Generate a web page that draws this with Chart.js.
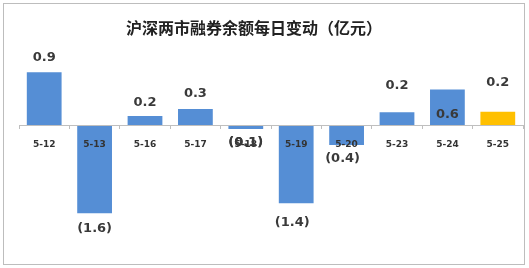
<!DOCTYPE html>
<html>
<head>
<meta charset="utf-8">
<script src="https://cdn.jsdelivr.net/npm/chart.js@4/dist/chart.umd.min.js"></script>
<style>
  html, body { margin: 0; padding: 0; background: #fff; }
  #wrap { position: relative; width: 529px; height: 268px; }
  #frame { position: absolute; left: 3px; top: 3px; width: 520px; height: 260px;
           border: 1.5px solid #bdbdbd; pointer-events: none; }
  canvas { position: absolute; left: 0; top: 0; }
</style>
</head>
<body>
<div id="wrap">
  <canvas id="c" width="529" height="268"></canvas>
  <div id="frame"></div>
</div>
<script>
const titleText = '沪深两市融券余额每日变动（亿元）';
const categories = ['5-12', '5-13', '5-16', '5-17', '5-18', '5-19', '5-20', '5-23', '5-24', '5-25'];
const values = [0.95, -1.59, 0.16, 0.29, -0.07, -1.41, -0.36, 0.23, 0.64, 0.24];
const highlightIndex = 9;

const blue = '#558ed5';
const orange = '#ffc000';
const barColors = categories.map((c, i) => i === highlightIndex ? orange : blue);

function fmt(v) {
  const s = Math.abs(v).toFixed(1);
  return v < 0 ? '(' + s + ')' : s;
}

const valueLabelPlugin = {
  id: 'valueLabels',
  afterDatasetsDraw(chart, args, opts) {
    const ctx = chart.ctx;
    const meta = chart.getDatasetMeta(0);
    ctx.save();
    ctx.font = opts.font;
    ctx.fillStyle = opts.color;
    ctx.textAlign = 'center';
    ctx.textBaseline = 'middle';
    meta.data.forEach((bar, i) => {
      const v = chart.data.datasets[0].data[i];
      const off = opts.offsets[i];
      let y;
      if (off === 'inside') {
        y = bar.base - 10;
      } else {
        y = v >= 0 ? bar.y - off : bar.y + off;
      }
      ctx.fillText(fmt(v), bar.x + (opts.dx[i] || 0), y);
    });
    ctx.restore();
  },
  afterDraw(chart, args, opts) {
    // value label for 5-18 overlaps the tick label in the reference; redraw it on top
    const ctx = chart.ctx;
    const meta = chart.getDatasetMeta(0);
    ctx.save();
    ctx.font = opts.font;
    ctx.fillStyle = opts.color;
    ctx.textAlign = 'center';
    ctx.textBaseline = 'middle';
    meta.data.forEach((bar, i) => {
      const v = chart.data.datasets[0].data[i];
      const off = opts.offsets[i];
      if (off !== 'inside' && v < 0 && Math.abs(v) < 0.2) {
        ctx.fillText(fmt(v), bar.x + (opts.dx[i] || 0), bar.y + off);
      }
    });
    ctx.restore();
  }
};

const titlePlugin = {
  id: 'customTitle',
  afterDraw(chart, args, opts) {
    const ctx = chart.ctx;
    ctx.save();
    ctx.font = opts.font;
    ctx.fillStyle = opts.color;
    ctx.textAlign = 'center';
    ctx.textBaseline = 'middle';
    ctx.fillText(opts.text, opts.x, opts.y);
    ctx.restore();
  }
};

new Chart(document.getElementById('c'), {
  type: 'bar',
  data: {
    labels: categories,
    datasets: [{
      data: values,
      backgroundColor: barColors,
      borderWidth: 0,
      barPercentage: 0.69,
      categoryPercentage: 1.0
    }]
  },
  options: {
    responsive: false,
    devicePixelRatio: 1,
    animation: false,
    layout: { padding: { top: 45, left: 19, right: 6, bottom: 18 } },
    plugins: {
      legend: { display: false },
      title: { display: false },
      tooltip: { enabled: false },
      valueLabels: {
        font: 'bold 13px "DejaVu Sans"',
        color: '#3a3a3a',
        offsets: [15, 15, 13, 15, 14, 19, 14, 27, 'inside', 29],
        dx: [0, 0, 0, 0, 0, -4, -4, 0, 0, 0]
      },
      customTitle: {
        text: titleText,
        font: 'bold 16px "Noto Sans CJK SC"',
        color: '#222',
        x: 254,
        y: 28
      }
    },
    scales: {
      x: {
        position: { y: 0 },
        offset: true,
        grid: { display: true, drawOnChartArea: false, drawTicks: true, tickLength: 3, color: '#bfbfbf', offset: true, z: 1 },
        border: { display: true, color: '#bfbfbf', width: 1, z: 1 },
        ticks: { z: 1, color: '#333', font: { family: 'DejaVu Sans', weight: 'bold', size: 9 }, padding: 11, maxRotation: 0, autoSkip: false }
      },
      y: {
        display: false,
        min: -2.25,
        max: 1.44,
        grid: { display: false }
      }
    }
  },
  plugins: [valueLabelPlugin, titlePlugin]
});
</script>
</body>
</html>
